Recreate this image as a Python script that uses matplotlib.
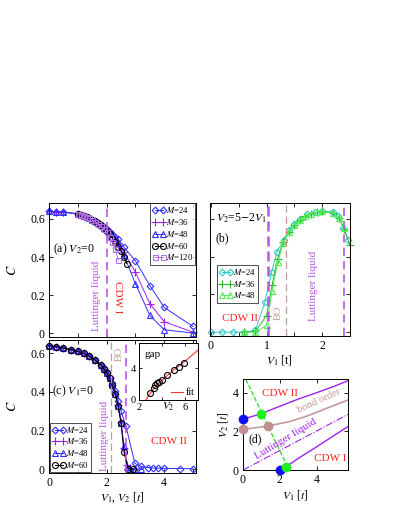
import matplotlib
matplotlib.use("Agg")
import matplotlib.pyplot as plt
from matplotlib.ticker import MultipleLocator, FixedLocator

plt.rcParams['font.family'] = ['Liberation Serif', 'DejaVu Serif']
plt.rcParams['mathtext.fontset'] = 'stix'
plt.rcParams['font.size'] = 8

# ---------------- data: panel (a) V2=0, x = V1 ----------------
a_x24 = [0, 0.25, 0.5, 1.0, 1.1, 1.2, 1.3, 1.4, 1.5, 1.6, 1.7, 1.8, 1.9, 2.0, 2.1, 2.2, 2.3, 2.4, 2.6, 3.0, 3.5, 4.0, 5.0]
a_y24 = [0.640, 0.638, 0.636, 0.627, 0.622, 0.617, 0.611, 0.604, 0.597, 0.588, 0.578, 0.568, 0.557, 0.545, 0.532, 0.520, 0.507, 0.495, 0.452, 0.380, 0.250, 0.135, 0.035]
a_x36 = [0, 0.25, 0.5, 1.0, 1.1, 1.2, 1.3, 1.4, 1.5, 1.6, 1.7, 1.8, 1.9, 2.0, 2.1, 2.2, 2.3, 2.4, 2.6, 3.0, 3.5, 4.0, 5.0]
a_y36 = [0.640, 0.638, 0.636, 0.627, 0.622, 0.617, 0.611, 0.604, 0.597, 0.588, 0.578, 0.567, 0.555, 0.541, 0.526, 0.510, 0.492, 0.472, 0.425, 0.320, 0.155, 0.060, 0.005]
a_x48 = [0, 0.25, 0.5, 1.0, 1.1, 1.2, 1.3, 1.4, 1.5, 1.6, 1.7, 1.8, 1.9, 2.0, 2.1, 2.2, 2.3, 2.4, 2.6, 3.0, 3.5, 4.0, 5.0]
a_y48 = [0.640, 0.638, 0.636, 0.627, 0.622, 0.617, 0.611, 0.604, 0.597, 0.588, 0.578, 0.567, 0.555, 0.540, 0.524, 0.507, 0.488, 0.467, 0.410, 0.260, 0.093, 0.018, 0.0]
a_x60 = [1.0, 1.1, 1.2, 1.3, 1.4, 1.5, 1.6, 1.7, 1.8, 1.9, 2.0, 2.1, 2.2, 2.3, 2.4, 2.5, 2.6, 2.7]
a_y60 = [0.627, 0.622, 0.617, 0.611, 0.604, 0.597, 0.588, 0.578, 0.566, 0.553, 0.538, 0.521, 0.502, 0.480, 0.455, 0.430, 0.400, 0.365]
a_x120 = [1.0, 1.1, 1.2, 1.3, 1.4, 1.5, 1.6, 1.7, 1.8, 1.9, 2.0, 2.1, 2.2, 2.3, 2.4]
a_y120 = [0.627, 0.622, 0.616, 0.610, 0.603, 0.595, 0.586, 0.575, 0.562, 0.547, 0.530, 0.505, 0.478, 0.440, 0.385]
a_vline = 2.0

# ---------------- data: panel (b) V2 = 5 - 2 V1, x = V1 ----------------
b_x24 = [0, 0.2, 0.4, 0.6, 0.8, 0.97, 1.09, 1.19, 1.31, 1.4, 1.5, 1.6, 1.72, 1.87, 1.99, 2.2, 2.29, 2.38, 2.47]
b_y24 = [0, 0, 0, 0, 0.01, 0.16, 0.317, 0.427, 0.49, 0.54, 0.576, 0.60, 0.625, 0.635, 0.641, 0.638, 0.615, 0.553, 0.49]
b_x36 = [0.6, 0.8, 1.0, 1.1, 1.2, 1.3, 1.4, 1.5, 1.6, 1.7, 1.8, 1.9, 2.0, 2.2, 2.3, 2.4, 2.5]
b_y36 = [0, 0.005, 0.088, 0.25, 0.39, 0.48, 0.53, 0.57, 0.595, 0.615, 0.628, 0.636, 0.640, 0.632, 0.608, 0.545, 0.46]
b_x48 = [0.6, 0.8, 1.0, 1.1, 1.2, 1.3, 1.4, 1.5, 1.6, 1.7, 1.8, 1.9, 2.0, 2.2, 2.3, 2.4]
b_y48 = [0, 0.0, 0.036, 0.22, 0.37, 0.475, 0.53, 0.57, 0.595, 0.615, 0.628, 0.636, 0.640, 0.632, 0.608, 0.55]
b_vlines = [1.03, 1.35, 2.4]

# ---------------- data: panel (c) V1=0, x = V2 ----------------
c_x24 = [0, 0.25, 0.5, 0.75, 1.0, 1.2, 1.4, 1.6, 1.8, 1.9, 2.0, 2.1, 2.2, 2.3, 2.4, 2.5, 2.67, 2.98, 3.2, 3.45, 3.62, 3.8, 4.0, 4.55, 5.0]
c_y24 = [0.640, 0.635, 0.628, 0.620, 0.610, 0.600, 0.585, 0.565, 0.540, 0.522, 0.502, 0.475, 0.445, 0.405, 0.355, 0.300, 0.223, 0.030, 0.014, 0.008, 0.006, 0.005, 0.004, 0.003, 0.002]
c_x36 = [0, 0.25, 0.5, 0.75, 1.0, 1.2, 1.4, 1.6, 1.8, 1.9, 2.0, 2.1, 2.2, 2.3, 2.4, 2.5, 2.6, 2.7, 2.8, 3.0]
c_y36 = [0.640, 0.635, 0.628, 0.620, 0.610, 0.600, 0.585, 0.565, 0.540, 0.520, 0.500, 0.472, 0.438, 0.392, 0.330, 0.245, 0.110, 0.020, 0.005, 0.0]
c_x48 = [0, 0.25, 0.5, 0.75, 1.0, 1.2, 1.4, 1.6, 1.8, 1.9, 2.0, 2.1, 2.2, 2.3, 2.4, 2.5, 2.6, 2.7, 2.8, 3.0, 3.2]
c_y48 = [0.640, 0.635, 0.628, 0.620, 0.610, 0.600, 0.585, 0.565, 0.540, 0.520, 0.500, 0.471, 0.436, 0.390, 0.328, 0.240, 0.120, 0.010, 0.002, 0.0, 0.0]
c_x60 = [0, 0.25, 0.5, 0.75, 1.0, 1.2, 1.4, 1.6, 1.8, 1.9, 2.0, 2.1, 2.2, 2.3, 2.4, 2.5, 2.6, 2.75, 2.93]
c_y60 = [0.640, 0.635, 0.628, 0.620, 0.610, 0.600, 0.585, 0.565, 0.540, 0.520, 0.500, 0.470, 0.434, 0.390, 0.325, 0.240, 0.090, 0.002, 0.0]
c_vline_bo = 2.15
c_vline_ll = 2.66

# ---------------- inset: gap vs V2 ----------------
gap_x = [2.92, 3.29, 3.43, 3.57, 3.77, 4.0, 4.43, 5.0, 5.43, 5.86]
gap_y = [0.84, 1.50, 1.90, 2.10, 2.30, 2.55, 3.16, 3.80, 4.20, 4.64]
fit_x = [2.6, 2.8, 3.0, 3.5, 4.0, 4.5, 5.0, 5.5, 6.0, 6.5, 7.1]
fit_y = [0.0, 0.45, 0.85, 1.80, 2.50, 3.15, 3.78, 4.35, 4.92, 5.55, 6.30]

# ---------------- panel (d): phase diagram ----------------
cdw2_x = [0.0, 1.0, 2.0, 3.0, 4.0, 5.0, 5.7]
cdw2_y = [2.63, 2.92, 3.30, 3.67, 4.0, 4.35, 4.62]
bo_x = [0.0, 1.37, 2.5, 3.5, 4.5, 5.7]
bo_y = [2.10, 2.28, 2.50, 2.80, 3.18, 3.62]
ll_x = [0.0, 5.7]
ll_y = [0.0, 2.88]
cdw1_x = [2.34, 3.0, 4.0, 5.0, 5.7]
cdw1_y = [0.17, 0.60, 1.20, 1.82, 2.25]
green_x = [0.15, 2.5]
green_y = [4.7, 0.0]
blue_pts_x = [0.0, 2.0]
blue_pts_y = [2.63, 0.0]
green_pts_x = [1.0, 2.34]
green_pts_y = [2.92, 0.17]
brown_pts_x = [0.0, 1.37]
brown_pts_y = [2.10, 2.28]

BLUE = '#2f2fff'
PURP = '#a020f0'
LPURP = '#b46ee6'
VLINE = '#b558e6'
BROWN = '#c49a9a'
RED = '#ff2020'
CYAN = '#30c8c8'
GREEN = '#30b030'
LGREEN = '#50f050'

fig = plt.figure(figsize=(3.99, 5.16), dpi=100)

def style(ax):
    ax.tick_params(direction='in', top=True, right=True, which='both', length=3, width=0.6, labelsize=8.5, pad=3)
    for s in ax.spines.values():
        s.set_linewidth(0.7)

ms = 4.0
lw = 0.7
LEGFS = 6.3
TFS = 8

def leg_style(leg):
    leg.get_frame().set_edgecolor('black')
    leg.get_frame().set_linewidth(0.6)

# ---------------- (a) ----------------
axa = fig.add_axes([0.123, 0.347, 0.368, 0.260])
style(axa)
axa.plot(a_x24, a_y24, '-D', color=BLUE, mfc='none', ms=ms-0.6, mew=0.8, lw=lw, label='$M$=24', clip_on=False)
axa.plot(a_x36, a_y36, '-+', color=PURP, ms=ms+1.5, mew=0.8, lw=lw, label='$M$=36', clip_on=False)
axa.plot(a_x48, a_y48, '-^', color=BLUE, mfc='none', ms=ms, mew=0.8, lw=lw, label='$M$=48', clip_on=False)
axa.plot(a_x60, a_y60, '-o', color='black', mfc='none', ms=ms+0.3, mew=0.8, lw=lw, label='$M$=60', clip_on=False)
axa.plot(a_x120, a_y120, '-s', color=LPURP, mfc='none', ms=ms-0.4, mew=0.8, lw=lw, label='$M$=120', clip_on=False)
axa.axvline(a_vline, color=VLINE, ls=(0, (5, 3)), lw=1.2)
axa.set_xlim(0, 5.1)
axa.set_ylim(-0.02, 0.685)
axa.xaxis.set_major_locator(MultipleLocator(1))
axa.set_xticklabels([])
axa.yaxis.set_major_locator(FixedLocator([0, 0.2, 0.4, 0.6]))
axa.set_yticklabels(['0', '0.2', '0.4', '0.6'])
axa.set_ylabel('$C$', fontsize=10, labelpad=8)
axa.text(0.15, 0.425, '(a) $V_2$=0', fontsize=8.5)
axa.text(1.66, 0.195, 'Luttinger liquid', color=VLINE, rotation=90, ha='center', va='center', fontsize=TFS)
axa.text(2.37, 0.19, 'CDW I', color=RED, rotation=-90, ha='center', va='center', fontsize=TFS)
leg = axa.legend(loc='upper right', numpoints=2, fontsize=LEGFS, handlelength=1.5, handletextpad=0.1,
                 borderpad=0.25, labelspacing=0.2, borderaxespad=0.05, frameon=True, fancybox=False)
leg_style(leg)

# ---------------- (b) ----------------
axb = fig.add_axes([0.526, 0.349, 0.351, 0.2576])
style(axb)
axb.plot(b_x24, b_y24, '-D', color=CYAN, mfc='none', ms=ms-0.6, mew=0.8, lw=lw, label='$M$=24', clip_on=False)
axb.plot(b_x36, b_y36, '-+', color=GREEN, ms=ms+1.5, mew=0.8, lw=lw, label='$M$=36', clip_on=False)
axb.plot(b_x48, b_y48, '-^', color=LGREEN, mfc='none', ms=ms, mew=0.8, lw=lw, label='$M$=48', clip_on=False)
axb.axvline(b_vlines[0], color=VLINE, ls=(0, (4, 2)), lw=1.8)
axb.axvline(b_vlines[1], color=BROWN, ls=(0, (6, 3)), lw=0.9)
axb.axvline(b_vlines[2], color=VLINE, ls=(0, (5, 3)), lw=1.2)
axb.set_xlim(-0.02, 2.5)
axb.set_ylim(-0.02, 0.685)
axb.xaxis.set_major_locator(FixedLocator([0, 1, 2]))
axb.xaxis.set_minor_locator(FixedLocator([0.5, 1.5]))
axb.yaxis.set_major_locator(FixedLocator([0, 0.2, 0.4, 0.6]))
axb.set_yticklabels([])
axb.set_xlabel('$V_1$ [t]', fontsize=8.5, labelpad=1)
axb.text(0.09, 0.585, '$V_2$=5$-$2$V_1$', fontsize=8.5)
axb.text(0.09, 0.48, '(b)', fontsize=8.5)
axb.text(0.52, 0.07, 'CDW II', color=RED, ha='center', va='center', fontsize=TFS)
axb.text(1.21, 0.10, 'BO', color=BROWN, rotation=90, ha='center', va='center', fontsize=7.5)
axb.text(1.84, 0.245, 'Luttinger liquid', color=VLINE, rotation=90, ha='center', va='center', fontsize=TFS)
legb = axb.legend(loc='upper left', bbox_to_anchor=(0.05, 0.535), numpoints=2, fontsize=LEGFS, handlelength=1.5,
                  handletextpad=0.1, borderpad=0.25, labelspacing=0.2, borderaxespad=0.0, fancybox=False)
leg_style(legb)

# ---------------- (c) ----------------
axc = fig.add_axes([0.123, 0.0833, 0.368, 0.258])
style(axc)
axc.plot(c_x24, c_y24, '-D', color=BLUE, mfc='none', ms=ms-0.6, mew=0.8, lw=lw, label='$M$=24', clip_on=False)
axc.plot(c_x36, c_y36, '-+', color=PURP, ms=ms+1.5, mew=0.8, lw=lw, label='$M$=36', clip_on=False)
axc.plot(c_x48, c_y48, '-^', color=BLUE, mfc='none', ms=ms, mew=0.8, lw=lw, label='$M$=48', clip_on=False)
axc.plot(c_x60, c_y60, '-o', color='black', mfc='none', ms=ms+0.3, mew=0.8, lw=lw, label='$M$=60', clip_on=False)
axc.axvline(c_vline_bo, color=BROWN, ls=(0, (6, 3)), lw=0.9)
axc.axvline(c_vline_ll, color=VLINE, ls=(0, (5, 3)), lw=1.2)
axc.set_xlim(0, 5.1)
axc.set_ylim(-0.02, 0.67)
axc.xaxis.set_major_locator(FixedLocator([0, 2, 4]))
axc.xaxis.set_minor_locator(FixedLocator([1, 3, 5]))
axc.yaxis.set_major_locator(FixedLocator([0, 0.2, 0.4, 0.6]))
axc.set_yticklabels(['0', '0.2', '0.4', '0.6'])
axc.set_ylabel('$C$', fontsize=10, labelpad=8)
axc.set_xlabel('$V_1$, $V_2$ [$t$]', fontsize=8.5, labelpad=1)
axc.text(0.1, 0.39, '(c) $V_1$=0', fontsize=8.5)
axc.text(1.94, 0.17, 'Luttinger liquid', color=VLINE, rotation=90, ha='center', va='center', fontsize=TFS)
axc.text(2.45, 0.60, 'BO', color=BROWN, rotation=90, ha='center', va='center', fontsize=7.5)
axc.text(4.15, 0.145, 'CDW II', color=RED, ha='center', va='center', fontsize=TFS)
legc = axc.legend(loc='lower left', numpoints=2, fontsize=LEGFS, handlelength=1.5, handletextpad=0.1,
                  borderpad=0.25, labelspacing=0.2, borderaxespad=0.1, fancybox=False)
leg_style(legc)

# ---------------- inset ----------------
axi = fig.add_axes([0.348, 0.225, 0.148, 0.110])
style(axi)
axi.tick_params(labelsize=7.5, length=2, pad=2)
axi.plot(fit_x, fit_y, '-', color='#ff3030', lw=0.8, label='fit')
axi.plot(gap_x, gap_y, 'o', color='black', mfc='none', ms=ms+0.3, mew=0.8)
axi.set_xlim(2, 7.1)
axi.set_ylim(0, 7.2)
axi.xaxis.set_major_locator(FixedLocator([2, 4, 6]))
axi.set_xticklabels(['2', '', '6'])
axi.yaxis.set_major_locator(FixedLocator([0, 4]))
axi.set_xlabel('$V_2$', fontsize=8, labelpad=-8)
axi.text(2.5, 5.4, 'gap', fontsize=8)
legi = axi.legend(loc='lower right', fontsize=7, handlelength=1.3, handletextpad=0.3, frameon=False,
                  borderaxespad=0.1, borderpad=0.2)

# ---------------- (d) ----------------
axd = fig.add_axes([0.609, 0.0891, 0.263, 0.176])
style(axd)
axd.plot(cdw2_x, cdw2_y, '-', color=PURP, lw=1.0)
axd.plot(bo_x, bo_y, '-', color=BROWN, lw=1.2)
axd.plot(ll_x, ll_y, '-.', color=PURP, lw=0.8)
axd.plot(cdw1_x, cdw1_y, '-', color=PURP, lw=1.0)
axd.plot(green_x, green_y, '--', color='#20e020', lw=0.9)
axd.plot(blue_pts_x, blue_pts_y, 'o', color='#1010ff', ms=6, clip_on=False, zorder=5)
axd.plot(green_pts_x, green_pts_y, 'o', color='#20f020', ms=6, clip_on=False, zorder=5)
axd.plot(brown_pts_x, brown_pts_y, 'o', color='#c09090', ms=6, clip_on=False, zorder=5)
axd.set_xlim(0, 5.7)
axd.set_ylim(0, 4.7)
axd.xaxis.set_major_locator(FixedLocator([0, 2, 4]))
axd.yaxis.set_major_locator(FixedLocator([0, 2, 4]))
axd.set_xlabel('$V_1$ [$t$]', fontsize=8.5, labelpad=1)
axd.set_ylabel('$V_2$ [$t$]', fontsize=8.5, labelpad=2)
axd.text(2.0, 3.98, 'CDW II', color=RED, ha='center', va='center', fontsize=TFS)
axd.text(4.12, 3.58, 'bond order', color=BROWN, rotation=25, ha='center', va='center', fontsize=7.7)
axd.text(2.35, 1.6, 'Luttinger liquid', color=PURP, rotation=31, ha='center', va='center', fontsize=TFS)
axd.text(0.65, 1.6, '(d)', ha='center', va='center', fontsize=8.5)
axd.text(4.72, 0.62, 'CDW I', color=RED, ha='center', va='center', fontsize=TFS)

fig.savefig('out.png', dpi=100)
